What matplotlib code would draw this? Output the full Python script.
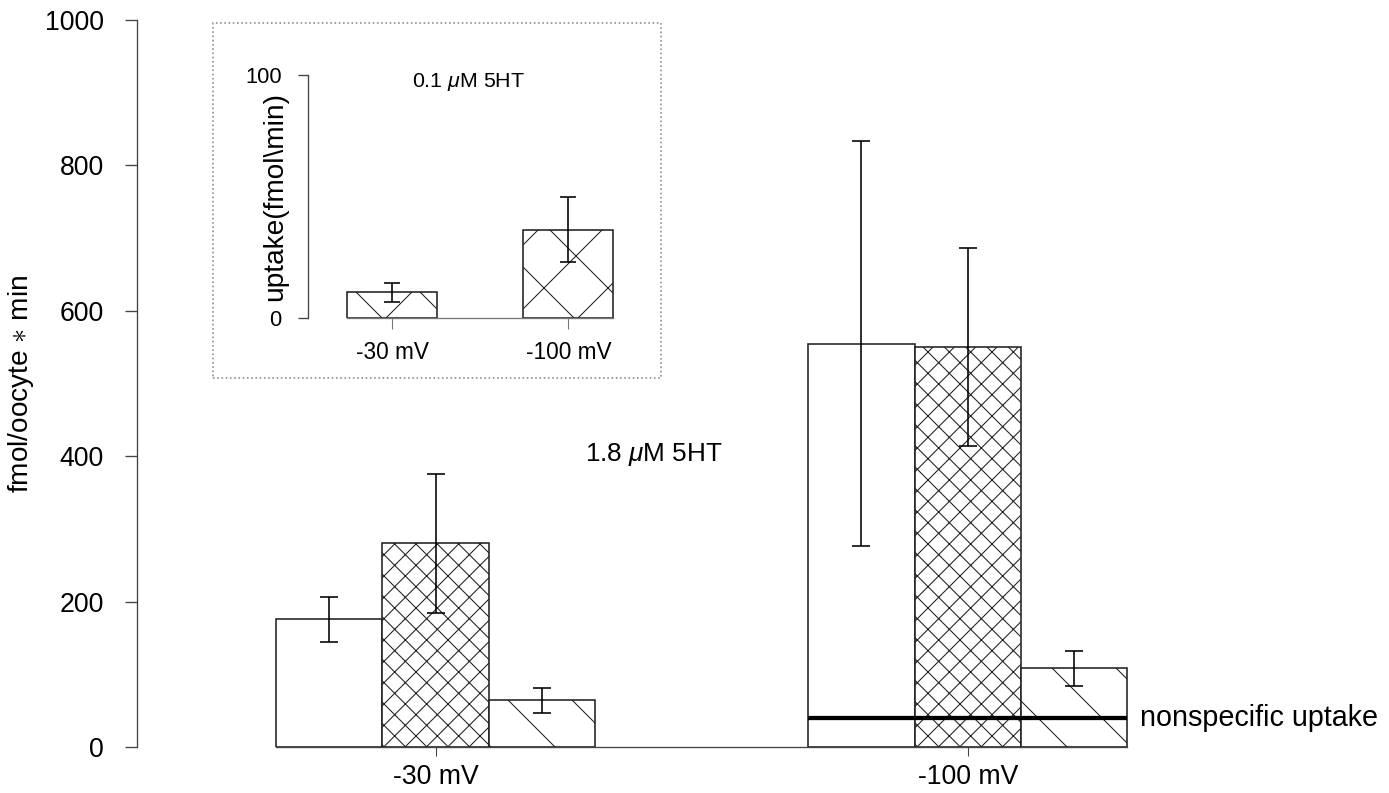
import numpy as np
import matplotlib
matplotlib.use("Agg")
import matplotlib.pyplot as plt
from matplotlib.patches import Rectangle

plt.rcParams['font.family'] = ['Liberation Sans', 'DejaVu Sans']
plt.rcParams['hatch.linewidth'] = 0.4
plt.rcParams['mathtext.fontset'] = 'custom'
plt.rcParams['mathtext.it'] = 'Liberation Sans:italic'
plt.rcParams['mathtext.rm'] = 'Liberation Sans'

# Main data (1.8 uM 5HT)
voltages = ['-30 mV', '-100 mV']
open_vals = [176, 555]
open_err = [31, 278]
cross_vals = [280, 550]
cross_err = [95, 136]
diag_vals = [64, 108]
diag_err = [17, 24]
nonspecific = 40

# Inset data (0.1 uM 5HT)
inset_vals = [10.6, 36.3]
inset_err = [4.0, 13.4]

W, H, DPI = 1389, 793, 192
fig = plt.figure(figsize=(W / DPI, H / DPI), dpi=DPI)

# main axes
ax = fig.add_axes([137 / W, 46 / H, (W - 137) / W, 727 / H])
x = np.arange(len(voltages))
bw = 0.2
ekw = dict(elinewidth=0.6, capthick=0.6, ecolor='black')

ax.bar(x - bw, open_vals, bw, color='white', edgecolor='#222222', linewidth=0.6)
ax.bar(x, cross_vals, bw, color='white', edgecolor='#222222', linewidth=0.6, hatch='xxx')
ax.bar(x + bw, diag_vals, bw, color='white', edgecolor='#222222', linewidth=0.6, hatch='\\')
ax.errorbar(x - bw, open_vals, yerr=open_err, fmt='none', capsize=3.3, **ekw)
ax.errorbar(x, cross_vals, yerr=cross_err, fmt='none', capsize=3.3, **ekw)
ax.errorbar(x + bw, diag_vals, yerr=diag_err, fmt='none', capsize=3.3, **ekw)

# nonspecific uptake line over the -100 mV group
ax.hlines(nonspecific, x[1] - 1.5 * bw, x[1] + 1.5 * bw, color='black', linewidth=1.6)
ax.text(x[1] + 1.5 * bw + 0.023, nonspecific, 'nonspecific uptake', fontsize=10.8,
        va='center', ha='left')
ax.text(0.41, 402, '1.8 $\\mu$M 5HT', fontsize=9.8, ha='center', va='center')

ax.set_xlim(-0.561, (W - 436) / 532)
ax.set_ylim(0, 1000)
ax.set_yticks(range(0, 1001, 200))
ax.set_xticks(x)
ax.set_xticklabels(voltages)
for s in ['top', 'right']:
    ax.spines[s].set_visible(False)
ax.spines['left'].set_color('#444444')
ax.spines['left'].set_linewidth(0.5)
ax.spines['bottom'].set_color('#444444')
ax.spines['bottom'].set_linewidth(0.5)
ax.spines['bottom'].set_bounds(-1.5 * bw, 1 + 1.5 * bw)
ax.tick_params(axis='y', length=4.5, width=0.5, pad=8, labelsize=10, color='#444444')
ax.tick_params(axis='x', length=3.5, width=0.4, pad=3, labelsize=10, color='#444444')
ax.set_ylabel('fmol/oocyte $\\ast$ min', fontsize=10.5)
ax.yaxis.set_label_coords(-0.081, 0.5)

# inset frame (dotted box)
fig.patches.append(Rectangle((213 / W, (H - 378) / H), 448 / W, 355 / H,
                             transform=fig.transFigure, fill=False,
                             edgecolor='#888888', linestyle=':', linewidth=0.6))

# inset axes
axi = fig.add_axes([308 / W, (H - 318) / H, 342 / W, 243 / H])
xi = np.arange(len(voltages))
bwi = 0.51
axi.bar(xi, inset_vals, bwi, color='white', edgecolor='#222222', linewidth=0.6, hatch='x')
axi.errorbar(xi, inset_vals, yerr=inset_err, fmt='none', capsize=3.0, **ekw)
axi.set_xlim(-0.476, 1.462)
axi.set_ylim(0, 100)
axi.set_yticks([0, 100])
axi.set_xticks(xi)
axi.set_xticklabels(voltages)
axi.patch.set_alpha(0)
for s in ['top', 'right']:
    axi.spines[s].set_visible(False)
axi.spines['left'].set_color('#444444')
axi.spines['left'].set_linewidth(0.5)
axi.spines['bottom'].set_color('#777777')
axi.spines['bottom'].set_linewidth(0.5)
axi.spines['bottom'].set_bounds(-bwi / 2, 1 + bwi / 2)
axi.tick_params(axis='y', length=3.8, width=0.5, pad=6, labelsize=8.2, color='#444444')
axi.tick_params(axis='x', length=4, width=0.4, pad=4.5, labelsize=8.5, color='#777777')
axi.set_ylabel('uptake(fmol\\min)', fontsize=10.5)
axi.yaxis.set_label_coords(-0.058, 0.5)
axi.text(0.468, 0.971, '0.1 $\\mu$M 5HT', transform=axi.transAxes, fontsize=8,
         ha='center', va='center')

fig.savefig('out.png', dpi=DPI)
